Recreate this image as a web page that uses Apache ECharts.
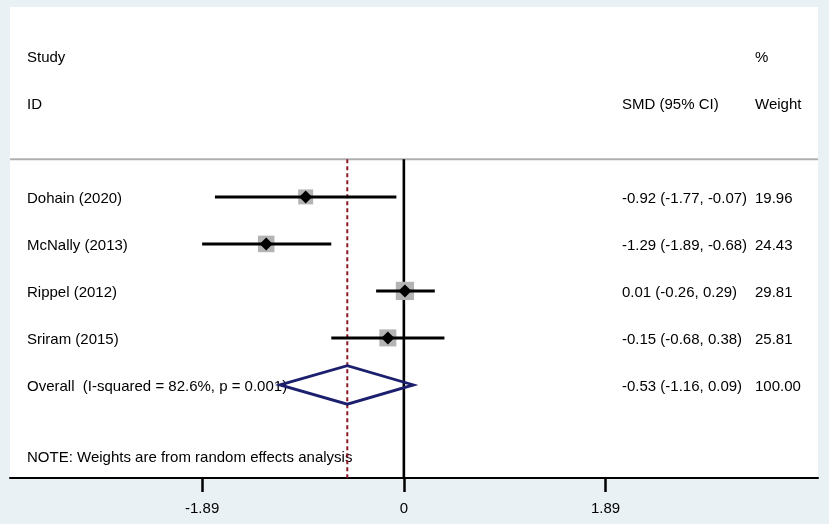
<!DOCTYPE html>
<html>
<head>
<meta charset="utf-8">
<script src="https://cdn.jsdelivr.net/npm/echarts@6/dist/echarts.min.js"></script>
<style>
html, body { margin: 0; padding: 0; background: #e9f1f4; }
#main { width: 829px; height: 524px; }
</style>
</head>
<body>
<div id="main"></div>
<script>
// study data
var studies = ['Dohain (2020)', 'McNally (2013)', 'Rippel (2012)', 'Sriram (2015)'];
var smd = [-0.92, -1.29, 0.01, -0.15];
var ciLow = [-1.77, -1.89, -0.26, -0.68];
var ciHigh = [-0.07, -0.68, 0.29, 0.38];
var weights = [19.96, 24.43, 29.81, 25.81];
var ciText = ['-0.92 (-1.77, -0.07)', '-1.29 (-1.89, -0.68)', '0.01 (-0.26, 0.29)', '-0.15 (-0.68, 0.38)'];
var weightText = ['19.96', '24.43', '29.81', '25.81'];

// pooled estimate
var overallLabel = 'Overall  (I-squared = 82.6%, p = 0.001)';
var overall = [-0.53, -1.16, 0.09];
var overallCiText = '-0.53 (-1.16, 0.09)';
var overallWeightText = '100.00';

var xTicks = [-1.89, 0, 1.89];
var noteText = 'NOTE: Weights are from random effects analysis';

// row layout (row units, top to bottom)
var firstRow = 4;
var overallRow = 8;
var sepRow = 3.2;
var noteRow = 9.5;
var yMin = -0.04, yMax = 9.98;

// text columns (px)
var colStudy = 27, colCI = 622, colW = 755;
var font = '"Liberation Sans", Arial, Helvetica, sans-serif';

var chart = echarts.init(document.getElementById('main'));

// texts sit a little below the row line, like the original
function txt(x, y, s) {
    return { type: 'text', style: { x: x, y: y + 2, text: s, fill: '#000', font: '15px ' + font, verticalAlign: 'middle' } };
}

var rows = [];
for (var i = 0; i < studies.length; i++) {
    rows.push([i, firstRow + i]);
}

chart.setOption({
    animation: false,
    backgroundColor: '#e9f1f4',
    grid: { left: 10, right: 11, top: 7, bottom: 46, show: true, backgroundColor: '#fff', borderWidth: 0 },
    xAxis: {
        type: 'value', min: -3.69, max: 3.88,
        splitLine: { show: false },
        axisLine: { onZero: false, lineStyle: { color: '#000', width: 2 } },
        axisTick: { customValues: xTicks, length: 14, lineStyle: { color: '#000', width: 2.5 } },
        axisLabel: { customValues: xTicks, color: '#000', fontSize: 15, fontFamily: font, margin: 23,
            formatter: function (v) { return v === 0 ? '0' : v.toFixed(2); } }
    },
    yAxis: { type: 'value', inverse: true, min: yMin, max: yMax, show: false },
    series: [
        // header, separator, reference lines, note
        {
            type: 'custom', data: [[0, 0]], silent: true, z: 1,
            renderItem: function (params, api) {
                var sepY = api.coord([0, sepRow])[1];
                var botY = api.coord([0, yMax])[1];
                var x0 = api.coord([0, 0])[0];
                var xo = api.coord([overall[0], 0])[0];
                var l = api.coord([-3.69, 0])[0], r = api.coord([3.88, 0])[0];
                return { type: 'group', children: [
                    txt(colStudy, api.coord([0, 1])[1], 'Study'),
                    txt(colStudy, api.coord([0, 2])[1], 'ID'),
                    txt(colW, api.coord([0, 1])[1], '%'),
                    txt(colCI, api.coord([0, 2])[1], 'SMD (95% CI)'),
                    txt(colW, api.coord([0, 2])[1], 'Weight'),
                    txt(colStudy, api.coord([0, noteRow])[1], noteText),
                    { type: 'line', shape: { x1: l, y1: sepY, x2: r, y2: sepY }, style: { stroke: '#b0b0b0', lineWidth: 2 } },
                    { type: 'line', shape: { x1: x0, y1: sepY, x2: x0, y2: botY }, style: { stroke: '#000', lineWidth: 2.6 } },
                    { type: 'line', shape: { x1: xo, y1: sepY, x2: xo, y2: botY }, style: { stroke: '#8b1a24', lineWidth: 2, lineDash: [4, 3] } }
                ] };
            }
        },
        // study rows
        {
            type: 'custom', data: rows, silent: true, z: 3,
            renderItem: function (params, api) {
                var i = api.value(0), row = api.value(1);
                var y = api.coord([0, row])[1];
                var xl = api.coord([ciLow[i], row])[0];
                var xh = api.coord([ciHigh[i], row])[0];
                var xm = api.coord([smd[i], row])[0];
                var side = 3.35 * Math.sqrt(weights[i]);
                var d = 6.5;
                return { type: 'group', children: [
                    txt(colStudy, y, studies[i]),
                    txt(colCI, y, ciText[i]),
                    txt(colW, y, weightText[i]),
                    { type: 'rect', shape: { x: xm - side / 2, y: y - side / 2, width: side, height: side }, style: { fill: '#b4b4b4' } },
                    { type: 'line', shape: { x1: xl, y1: y, x2: xh, y2: y }, style: { stroke: '#000', lineWidth: 3 } },
                    { type: 'polygon', shape: { points: [[xm - d, y], [xm, y - d], [xm + d, y], [xm, y + d]] }, style: { fill: '#000' } }
                ] };
            }
        },
        // overall diamond
        {
            type: 'custom', data: [[overallRow]], silent: true, z: 4,
            renderItem: function (params, api) {
                var row = api.value(0);
                var y = api.coord([0, row])[1];
                var h = api.coord([0, row + 0.41])[1] - y;
                var xl = api.coord([overall[1], row])[0];
                var xm = api.coord([overall[0], row])[0];
                var xh = api.coord([overall[2], row])[0];
                return { type: 'group', children: [
                    txt(colStudy, y, overallLabel),
                    txt(colCI, y, overallCiText),
                    txt(colW, y, overallWeightText),
                    { type: 'polygon', z2: 10, shape: { points: [[xl, y], [xm, y - h], [xh, y], [xm, y + h]] },
                      style: { fill: 'none', stroke: '#1c1f6e', lineWidth: 2.8, lineJoin: 'miter' } }
                ] };
            }
        }
    ]
});
</script>
</body>
</html>
